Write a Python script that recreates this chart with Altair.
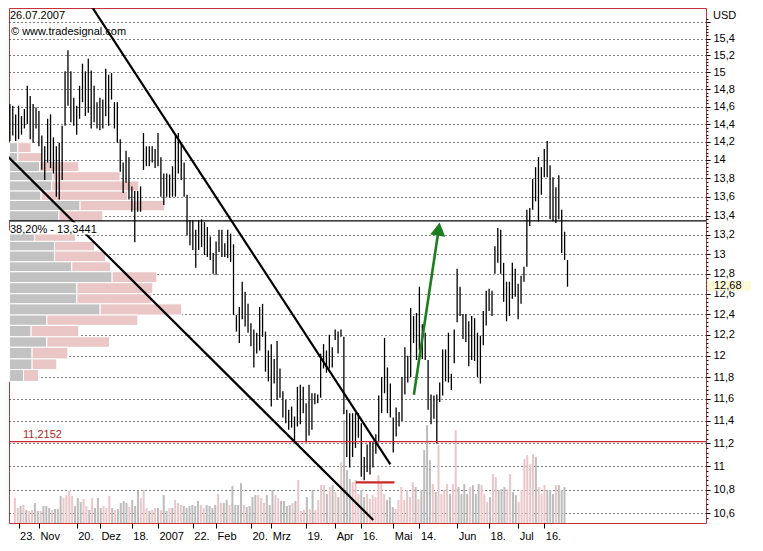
import json
import altair as alt
import pandas as pd

# ---------------- data ----------------
# daily high / low, trading-day index 0 (18 Oct 2006) .. 192 (26 Jul 2007)
highs = [
    14.63, 14.61, 14.51, 14.61, 14.49, 14.57, 14.84, 14.72, 14.63, 14.59,
    14.55, 14.27, 14.15, 14.46, 14.51, 14.25, 14.15, 14.19, 14.38, 15.01,
    15.26, 15.01, 14.70, 14.61, 14.84, 15.10, 15.01, 15.16, 15.02, 14.84,
    14.65, 14.70, 14.68, 15.04, 14.97, 14.99, 14.65, 14.65, 14.23, 13.97,
    14.10, 14.03, 13.71, 13.66, 13.66, 13.71, 14.30, 14.15, 14.15, 14.15,
    14.12, 14.30, 14.03, 13.85, 13.85, 13.84, 13.93, 14.27, 14.30, 14.19,
    13.97, 13.62, 13.35, 13.35, 13.25, 13.35, 13.36, 13.33, 13.28, 13.18,
    13.01, 13.13, 13.25, 13.25, 13.11, 13.25, 13.21, 13.10, 12.39, 12.47,
    12.72, 12.62, 12.50, 12.31, 12.25, 12.22, 12.47, 12.50, 12.23, 12.05,
    12.11, 11.97, 12.14, 11.88, 11.67, 11.59, 11.50, 11.53, 11.44, 11.71,
    11.73, 11.71, 11.56, 11.73, 11.65, 11.65, 11.64, 12.02, 12.11, 12.05,
    12.20, 12.08, 12.25, 12.23, 12.25, 12.18, 11.50, 11.47, 11.47, 11.47,
    11.47, 11.38, 11.08, 11.19, 11.22, 11.21, 11.28, 11.63, 11.80, 12.17,
    11.89, 11.74, 11.43, 11.52, 11.48, 11.80, 12.08, 12.00, 12.46, 12.38,
    12.41, 12.67, 12.30, 12.22, 11.96, 11.64, 11.63, 11.64, 11.75, 12.06,
    12.06, 12.22, 11.83, 12.25, 12.85, 12.67, 12.40, 12.40, 12.33, 12.38,
    12.36, 12.22, 12.19, 12.43, 12.63, 12.65, 12.63, 13.08, 13.27, 13.25,
    12.91, 12.72, 12.72, 12.91, 12.85, 12.70, 12.78, 12.87, 13.46, 13.48,
    13.79, 13.92, 14.03, 13.92, 14.12, 14.21, 13.94, 13.81, 13.70, 13.83,
    13.46, 13.23, 12.94,
]
lows = [
    14.21, 14.27, 14.21, 14.23, 14.28, 14.35, 14.40, 14.23, 14.19, 14.35,
    14.15, 13.89, 13.78, 13.97, 13.91, 13.85, 13.60, 13.57, 13.78, 14.38,
    14.61, 14.42, 14.38, 14.28, 14.46, 14.65, 14.49, 14.53, 14.35, 14.42,
    14.35, 14.33, 14.35, 14.49, 14.38, 14.68, 14.35, 14.19, 13.87, 13.64,
    13.75, 13.57, 13.44, 13.12, 13.44, 13.44, 13.89, 13.93, 13.93, 13.97,
    13.91, 13.93, 13.60, 13.51, 13.60, 13.59, 13.60, 13.60, 13.85, 13.78,
    13.60, 13.19, 13.09, 13.04, 12.86, 13.04, 13.07, 12.99, 12.97, 12.94,
    12.80, 12.79, 13.02, 12.97, 12.97, 12.96, 12.92, 12.39, 12.23, 12.12,
    12.35, 12.28, 12.22, 12.09, 11.89, 12.02, 12.05, 12.18, 11.85, 11.76,
    11.53, 11.74, 11.59, 11.61, 11.43, 11.38, 11.32, 11.34, 11.22, 11.35,
    11.37, 11.47, 11.21, 11.27, 11.32, 11.55, 11.56, 11.61, 11.88, 11.84,
    11.88, 11.89, 12.15, 12.02, 12.18, 11.46, 11.08, 10.99, 11.08, 11.16,
    11.25, 10.91, 10.88, 10.95, 10.93, 10.99, 11.11, 11.21, 11.47, 11.65,
    11.47, 11.43, 11.12, 11.26, 11.35, 11.40, 11.64, 11.75, 11.80, 12.12,
    11.96, 12.05, 11.97, 11.96, 11.50, 11.37, 11.42, 11.20, 11.57, 11.63,
    11.76, 11.75, 11.68, 11.93, 12.32, 12.38, 12.16, 12.13, 11.90, 11.96,
    11.95, 11.80, 11.74, 12.10, 12.29, 12.43, 12.38, 12.80, 12.91, 12.80,
    12.52, 12.33, 12.38, 12.55, 12.57, 12.35, 12.50, 12.72, 12.87, 13.29,
    13.46, 13.55, 13.34, 13.62, 13.81, 13.81, 13.36, 13.34, 13.32, 13.36,
    13.01, 12.94, 12.67,
]
# volume (10k shares)
volume = [
    25, 15, 17, 18, 13, 12, 13, 20, 12, 12,
    17, 17, 15, 13, 14, 14, 27, 25, 28, 33,
    27, 17, 25, 21, 24, 17, 13, 25, 15, 25,
    15, 17, 15, 27, 15, 13, 14, 20, 22, 20,
    16, 23, 17, 32, 25, 33, 15, 12, 13, 15,
    15, 13, 28, 12, 15, 15, 23, 20, 18, 17,
    15, 17, 18, 17, 22, 18, 15, 18, 17, 15,
    18, 29, 20, 20, 23, 18, 37, 18, 18, 40,
    18, 16, 17, 26, 28, 28, 25, 20, 28, 18,
    33, 28, 25, 22, 22, 17, 18, 20, 22, 43,
    12, 13, 26, 14, 33, 13, 23, 38, 38, 29,
    36, 38, 31, 26, 61, 103, 53, 44, 41, 43,
    29, 33, 26, 29, 24, 28, 26, 48, 41, 29,
    23, 26, 16, 14, 23, 36, 23, 33, 26, 41,
    36, 24, 33, 73, 98, 63, 39, 31, 78, 29,
    33, 39, 29, 39, 93, 36, 29, 39, 29, 36,
    38, 29, 39, 38, 29, 21, 26, 49, 46, 33,
    34, 36, 34, 49, 31, 28, 21, 33, 64, 68,
    59, 69, 66, 36, 29, 38, 33, 33, 29, 38,
    38, 33, 36,
]

x_tick_idx = [3, 10, 23, 31, 42, 51, 63, 71, 83, 90, 102, 112, 121, 132, 141, 154, 165, 175, 184]
x_tick_lab = ["23.", "Nov", "20.", "Dez", "18.", "2007", "22.", "Feb", "20.", "Mrz",
              "19.", "Apr", "16.", "Mai", "14.", "Jun", "18.", "Jul", "16."]

# volume profile (price bins, grey part / pink part)
profile_top = [14.19, 14.08, 13.98, 13.87, 13.77, 13.66, 13.56, 13.45, 13.24, 13.13, 13.03,
               12.92, 12.82, 12.71, 12.60, 12.50, 12.39, 12.29, 12.18, 12.08, 11.97, 11.87]
profile_bottom = [14.08, 13.98, 13.87, 13.77, 13.66, 13.56, 13.45, 13.34, 13.13, 13.03, 12.92,
                  12.82, 12.71, 12.60, 12.50, 12.39, 12.29, 12.18, 12.08, 11.97, 11.87, 11.76]
profile_grey = [83, 83, 300, 433, 423, 316, 706, 493, 250, 450, 450,
                623, 1026, 673, 673, 906, 373, 216, 373, 226, 226, 140]
profile_pink = [133, 250, 393, 673, 870, 867, 844, 440, 410, 400, 510,
                387, 447, 760, 750, 817, 910, 477, 627, 357, 247, 150]

fib_level = 13.3441
support_level = 11.2152
last_price = 12.68
trend_line = ["upper", "upper", "lower", "lower"]
trend_idx = [26.3, 131.0, -0.64, 125.1]
trend_price = [15.90, 11.017, 14.035, 10.545]
low_mark_idx = [119.1, 132.4]
low_mark_price = [10.861, 10.861]
arrow_idx = [139.1, 147.65]
arrow_price = [11.637, 13.258]

# ---------------- styling ----------------
FONT = "Liberation Sans"
W, H = 697, 515
xs = alt.Scale(domain=[-0.3, 239.68], nice=False, zero=False)
ys = alt.Scale(type="log", domain=[10.52, 15.777], nice=False)

N = len(highs)
price_df = pd.DataFrame({"idx": list(range(N)), "high": highs, "low": lows, "vol": volume})
mid = [(h + l) / 2 for h, l in zip(highs, lows)]
price_df["dir"] = ["down" if i > 0 and mid[i] < mid[i - 1] else "up" for i in range(N)]

y_ticks = sorted({round(10.56 + 0.04 * k, 2) for k in range(128)})
major_test = "abs(datum.value*5 - round(datum.value*5)) < 0.01"

x_axis = alt.Axis(
    values=x_tick_idx,
    labelExpr=f"{json.dumps(x_tick_lab)}[indexof({json.dumps(x_tick_idx)}, datum.value)]",
    grid=False, domain=False, tickSize=5, tickColor="black",
    labelAlign="left", labelBaseline="top", labelPadding=2, labelOffset=1,
    labelFont=FONT, labelFontSize=11, labelColor="black",
    labelOverlap=False, labelFlush=False, title=None,
)
y_axis = alt.Axis(
    orient="right", values=y_ticks,
    labelExpr=f"({major_test} && datum.value < 15.5) ? replace(format(datum.value, '.1~f'), '.', ',') : ''",
    grid=True, gridColor="black", gridDash=[1, 3], gridWidth=1,
    gridOpacity={"condition": {"test": major_test, "value": 1}, "value": 0},
    tickSize={"condition": {"test": major_test, "value": 4}, "value": 2},
    tickColor="black", domain=False, labelPadding=3,
    labelFont=FONT, labelFontSize=11, labelColor="black",
    labelOverlap=False, labelFlush=False, title=None,
)

# volume profile
prof_rows = []
for t, b, g, p in zip(profile_top, profile_bottom, profile_grey, profile_pink):
    prof_rows.append({"top": t, "bottom": b, "x0": 0, "x1": g, "kind": "a"})
    prof_rows.append({"top": t, "bottom": b, "x0": g, "x1": g + p, "kind": "b"})
profile = alt.Chart(pd.DataFrame(prof_rows)).mark_rect(stroke="white", strokeWidth=1, clip=True).encode(
    x=alt.X("x0:Q", scale=alt.Scale(domain=[-5, 6965], nice=False, zero=False), axis=None),
    x2="x1:Q",
    y=alt.Y("top:Q", scale=ys, axis=None),
    y2="bottom:Q",
    color=alt.Color("kind:N", scale=alt.Scale(domain=["a", "b"], range=["#c2c2c2", "#eac6c6"]), legend=None),
)

vol = alt.Chart(price_df).mark_bar(size=2, clip=True).encode(
    x=alt.X("idx:Q", scale=xs, axis=None),
    y=alt.Y("vol:Q", scale=alt.Scale(domain=[0, 516], nice=False, zero=True), axis=None),
    color=alt.Color("dir:N", scale=alt.Scale(domain=["down", "up"], range=["#bcbcbc", "#ebc6c8"]), legend=None),
)

bars = alt.Chart(price_df).mark_rule(color="black", strokeWidth=1.3, clip=True).encode(
    x=alt.X("idx:Q", scale=xs, axis=x_axis),
    y=alt.Y("low:Q", scale=ys, axis=y_axis),
    y2="high:Q",
)

fib_line = alt.Chart(pd.DataFrame({"p": [fib_level]})).mark_rule(color="black", strokeWidth=1.2).encode(
    y=alt.Y("p:Q", scale=ys, axis=None))
sup_line = alt.Chart(pd.DataFrame({"p": [support_level]})).mark_rule(color="#c8283c", strokeWidth=1.2).encode(
    y=alt.Y("p:Q", scale=ys, axis=None))

low_mark = alt.Chart(pd.DataFrame({"idx": low_mark_idx, "price": low_mark_price})).mark_line(
    color="#c82828", strokeWidth=2.2).encode(
    x=alt.X("idx:Q", scale=xs, axis=None), y=alt.Y("price:Q", scale=ys, axis=None))

trends = alt.Chart(pd.DataFrame({"line": trend_line, "idx": trend_idx, "price": trend_price})).mark_line(
    color="black", strokeWidth=2.2, clip=True).encode(
    x=alt.X("idx:Q", scale=xs, axis=None), y=alt.Y("price:Q", scale=ys, axis=None), detail="line:N")

arrow_df = pd.DataFrame({"idx": arrow_idx, "price": arrow_price})
arrow_shaft = alt.Chart(arrow_df).mark_line(color="#1e7d1e", strokeWidth=2.6).encode(
    x=alt.X("idx:Q", scale=xs, axis=None), y=alt.Y("price:Q", scale=ys, axis=None))
arrow_head = alt.Chart(arrow_df.tail(1)).mark_point(
    shape="triangle-up", filled=True, size=230, angle=8.5, color="#1e7d1e", opacity=1).encode(
    x=alt.X("idx:Q", scale=xs, axis=None), y=alt.Y("price:Q", scale=ys, axis=None))

label_box = alt.Chart(pd.DataFrame({"p1": [13.33], "p2": [13.20]})).mark_rect(color="white").encode(
    x=alt.value(1), x2=alt.value(81), y=alt.Y("p1:Q", scale=ys, axis=None), y2="p2:Q")


def fixed_text(txt, x, y, **kw):
    return alt.Chart(pd.DataFrame({"t": [txt]})).mark_text(
        font=FONT, fontSize=11, color="black", align="left", baseline="middle", **kw
    ).encode(x=alt.value(x), y=alt.value(y), text="t:N")


def price_text(txt, x, price, **kw):
    args = dict(font=FONT, fontSize=11, color="black", align="left")
    args.update(kw)
    return alt.Chart(pd.DataFrame({"t": [txt], "p": [price]})).mark_text(**args).encode(
        x=alt.value(x), y=alt.Y("p:Q", scale=ys, axis=None), text="t:N")


last_box = alt.Chart(pd.DataFrame({"p1": [12.73], "p2": [12.63]})).mark_rect(color="#fffbd8").encode(
    x=alt.value(W + 1), x2=alt.value(W + 45), y=alt.Y("p1:Q", scale=ys, axis=None), y2="p2:Q")

texts = [
    fixed_text("26.07.2007", 1, 8),
    fixed_text("\u00a9 www.tradesignal.com", 2, 24),
    fixed_text("USD", W + 7, 8),
    price_text("38,20% - 13,3441", 1, fib_level, baseline="top", dy=3),
    price_text("11,2152", 14, support_level, baseline="bottom", dy=-2, color="#b02828"),
    last_box,
    price_text("12,68", W + 8, last_price, baseline="middle"),
]

chart = alt.layer(
    profile, vol, bars, fib_line, sup_line, low_mark, trends,
    arrow_shaft, arrow_head, label_box, *texts
).resolve_scale(
    x="independent", y="independent", color="independent"
).properties(
    width=W, height=H, background="white",
    padding={"left": 0, "top": 0, "right": 0, "bottom": 0},
).configure_view(stroke="#c8323c", strokeWidth=1)

chart.save("out.html", embed_options={"renderer": "svg", "actions": False})
